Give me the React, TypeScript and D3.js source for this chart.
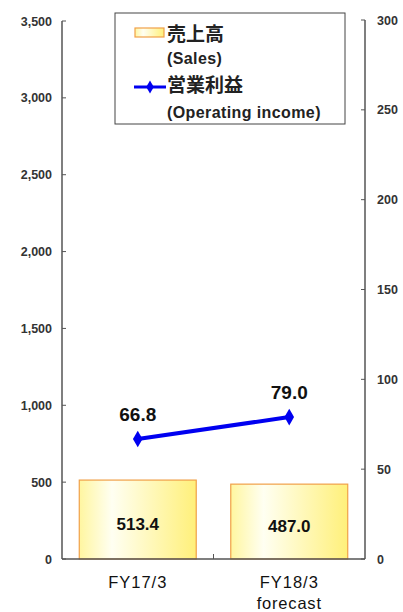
import { useRef, useEffect } from 'react';
import * as d3 from 'd3';

const CATEGORIES = ['FY17/3', 'FY18/3'];
const SUB_LABELS = ['', 'forecast'];
const SALES = [513.4, 487.0];
const OPERATING_INCOME = [66.8, 79.0];
const LEFT_TICKS = [0, 500, 1000, 1500, 2000, 2500, 3000, 3500];
const RIGHT_TICKS = [0, 50, 100, 150, 200, 250, 300];

const W = 403;
const H = 612;
const FONT = 'Arial, "Liberation Sans", sans-serif';
const JP_FONT = '"Noto Sans CJK JP", sans-serif';
const AXIS_COLOR = '#555';
const LINE_COLOR = '#0000F0';
const BAR_STROKE = '#F0A048';

export default function App() {
  const svgRef = useRef<SVGSVGElement>(null);

  useEffect(() => {
    const svg = d3.select(svgRef.current);
    svg.selectAll('*').remove();

    const left = 62;
    const right = 365;
    const top = 21;
    const bottom = 559;

    const x = d3.scaleBand<string>()
      .domain(CATEGORIES)
      .range([left, right])
      .paddingInner(0.228)
      .paddingOuter(0.114);
    const yL = d3.scaleLinear().domain([0, 3500]).range([bottom, top]);
    const yR = d3.scaleLinear().domain([0, 300]).range([bottom, top - 1]);

    const defs = svg.append('defs');
    const grad = defs.append('linearGradient')
      .attr('id', 'barGrad')
      .attr('x1', '0%').attr('x2', '100%').attr('y1', '0%').attr('y2', '0%');
    grad.append('stop').attr('offset', '0%').attr('stop-color', '#FFF6A0');
    grad.append('stop').attr('offset', '28%').attr('stop-color', '#FFFFF2');
    grad.append('stop').attr('offset', '100%').attr('stop-color', '#FFF07A');

    // Bars
    svg.selectAll('rect.bar')
      .data(SALES)
      .join('rect')
      .attr('class', 'bar')
      .attr('x', (_, i) => x(CATEGORIES[i])!)
      .attr('y', (d) => yL(d))
      .attr('width', x.bandwidth())
      .attr('height', (d) => bottom - yL(d))
      .attr('fill', 'url(#barGrad)')
      .attr('stroke', BAR_STROKE)
      .attr('stroke-width', 1.2);

    // Bar labels
    svg.selectAll('text.barLabel')
      .data(SALES)
      .join('text')
      .attr('class', 'barLabel')
      .attr('x', (_, i) => x(CATEGORIES[i])! + x.bandwidth() / 2)
      .attr('y', (d) => (yL(d) + bottom) / 2 + 10)
      .attr('text-anchor', 'middle')
      .attr('font-family', FONT)
      .attr('font-weight', 'bold')
      .attr('font-size', 17)
      .attr('fill', '#111')
      .text((d) => d.toFixed(1));

    // Axes lines
    svg.append('line')
      .attr('x1', left).attr('x2', left).attr('y1', top).attr('y2', bottom)
      .attr('stroke', AXIS_COLOR).attr('stroke-width', 1.5);
    svg.append('line')
      .attr('x1', right).attr('x2', right).attr('y1', top - 1).attr('y2', bottom)
      .attr('stroke', AXIS_COLOR).attr('stroke-width', 1.5);
    svg.append('line')
      .attr('x1', left).attr('x2', right).attr('y1', bottom).attr('y2', bottom)
      .attr('stroke', AXIS_COLOR).attr('stroke-width', 1.5);

    // Left ticks
    const lt = svg.append('g');
    for (const t of LEFT_TICKS) {
      lt.append('line')
        .attr('x1', left).attr('x2', left + 4).attr('y1', yL(t)).attr('y2', yL(t))
        .attr('stroke', AXIS_COLOR).attr('stroke-width', 1);
      lt.append('text')
        .attr('x', 52).attr('y', yL(t) + 4.5)
        .attr('text-anchor', 'end')
        .attr('font-family', FONT).attr('font-weight', 'bold').attr('font-size', 12.5)
        .attr('fill', '#333')
        .text(d3.format(',')(t));
    }

    // Right ticks
    const rt = svg.append('g');
    for (const t of RIGHT_TICKS) {
      rt.append('line')
        .attr('x1', right - 4).attr('x2', right).attr('y1', yR(t)).attr('y2', yR(t))
        .attr('stroke', AXIS_COLOR).attr('stroke-width', 1);
      rt.append('text')
        .attr('x', 377).attr('y', yR(t) + 4.5)
        .attr('text-anchor', 'start')
        .attr('font-family', FONT).attr('font-weight', 'bold').attr('font-size', 12.5)
        .attr('fill', '#333')
        .text(String(t));
    }

    // Middle category tick
    svg.append('line')
      .attr('x1', (left + right) / 2).attr('x2', (left + right) / 2)
      .attr('y1', bottom - 5).attr('y2', bottom)
      .attr('stroke', AXIS_COLOR).attr('stroke-width', 1);

    // Category labels
    CATEGORIES.forEach((c, i) => {
      const cx = x(c)! + x.bandwidth() / 2;
      svg.append('text')
        .attr('x', cx).attr('y', 588)
        .attr('text-anchor', 'middle')
        .attr('font-family', FONT).attr('font-size', 16.5).attr('letter-spacing', 1)
        .attr('fill', '#111')
        .text(c);
      if (SUB_LABELS[i]) {
        svg.append('text')
          .attr('x', cx).attr('y', 609)
          .attr('text-anchor', 'middle')
          .attr('font-family', FONT).attr('font-size', 16.5).attr('letter-spacing', 0.8)
          .attr('fill', '#111')
          .text(SUB_LABELS[i]);
      }
    });

    // Operating income line
    const pts: [number, number][] = OPERATING_INCOME.map((v, i) => [
      x(CATEGORIES[i])! + x.bandwidth() / 2,
      yR(v),
    ]);
    svg.append('path')
      .datum(pts)
      .attr('d', d3.line())
      .attr('fill', 'none')
      .attr('stroke', LINE_COLOR)
      .attr('stroke-width', 4);
    const diamond = d3.symbol().type(d3.symbolDiamond).size(80);
    svg.selectAll('path.marker')
      .data(pts)
      .join('path')
      .attr('class', 'marker')
      .attr('transform', (d) => `translate(${d[0]},${d[1]})`)
      .attr('d', diamond())
      .attr('fill', LINE_COLOR);

    svg.selectAll('text.lineLabel')
      .data(OPERATING_INCOME)
      .join('text')
      .attr('class', 'lineLabel')
      .attr('x', (_, i) => pts[i][0])
      .attr('y', (_, i) => pts[i][1] - 18)
      .attr('text-anchor', 'middle')
      .attr('font-family', FONT).attr('font-weight', 'bold').attr('font-size', 19)
      .attr('fill', '#111')
      .text((d) => d.toFixed(1));

    // Legend
    const lg = svg.append('g');
    lg.append('rect')
      .attr('x', 115).attr('y', 13).attr('width', 230).attr('height', 111)
      .attr('fill', '#fff').attr('stroke', '#444').attr('stroke-width', 1);
    lg.append('rect')
      .attr('x', 135).attr('y', 28).attr('width', 29).attr('height', 9)
      .attr('fill', 'url(#barGrad)').attr('stroke', BAR_STROKE).attr('stroke-width', 1.2);
    lg.append('line')
      .attr('x1', 134).attr('x2', 166).attr('y1', 87).attr('y2', 87)
      .attr('stroke', LINE_COLOR).attr('stroke-width', 3);
    lg.append('path')
      .attr('transform', 'translate(150,87)')
      .attr('d', d3.symbol().type(d3.symbolDiamond).size(50)())
      .attr('fill', LINE_COLOR);
    const legendText = [
      { t: '売上高', y: 41, jp: true },
      { t: '(Sales)', y: 64, jp: false },
      { t: '営業利益', y: 92, jp: true },
      { t: '(Operating income)', y: 118, jp: false },
    ];
    for (const item of legendText) {
      lg.append('text')
        .attr('x', 167).attr('y', item.y)
        .attr('font-family', item.jp ? JP_FONT : FONT)
        .attr('font-weight', 'bold')
        .attr('font-size', item.jp ? 19 : 16)
        .attr('letter-spacing', item.jp ? 0 : 0.4)
        .attr('fill', '#222')
        .text(item.t);
    }
  }, []);

  return (
    <svg ref={svgRef} width={W} height={H}
      style={{ position: 'absolute', left: 0, top: 0, background: '#fff' }} />
  );
}
